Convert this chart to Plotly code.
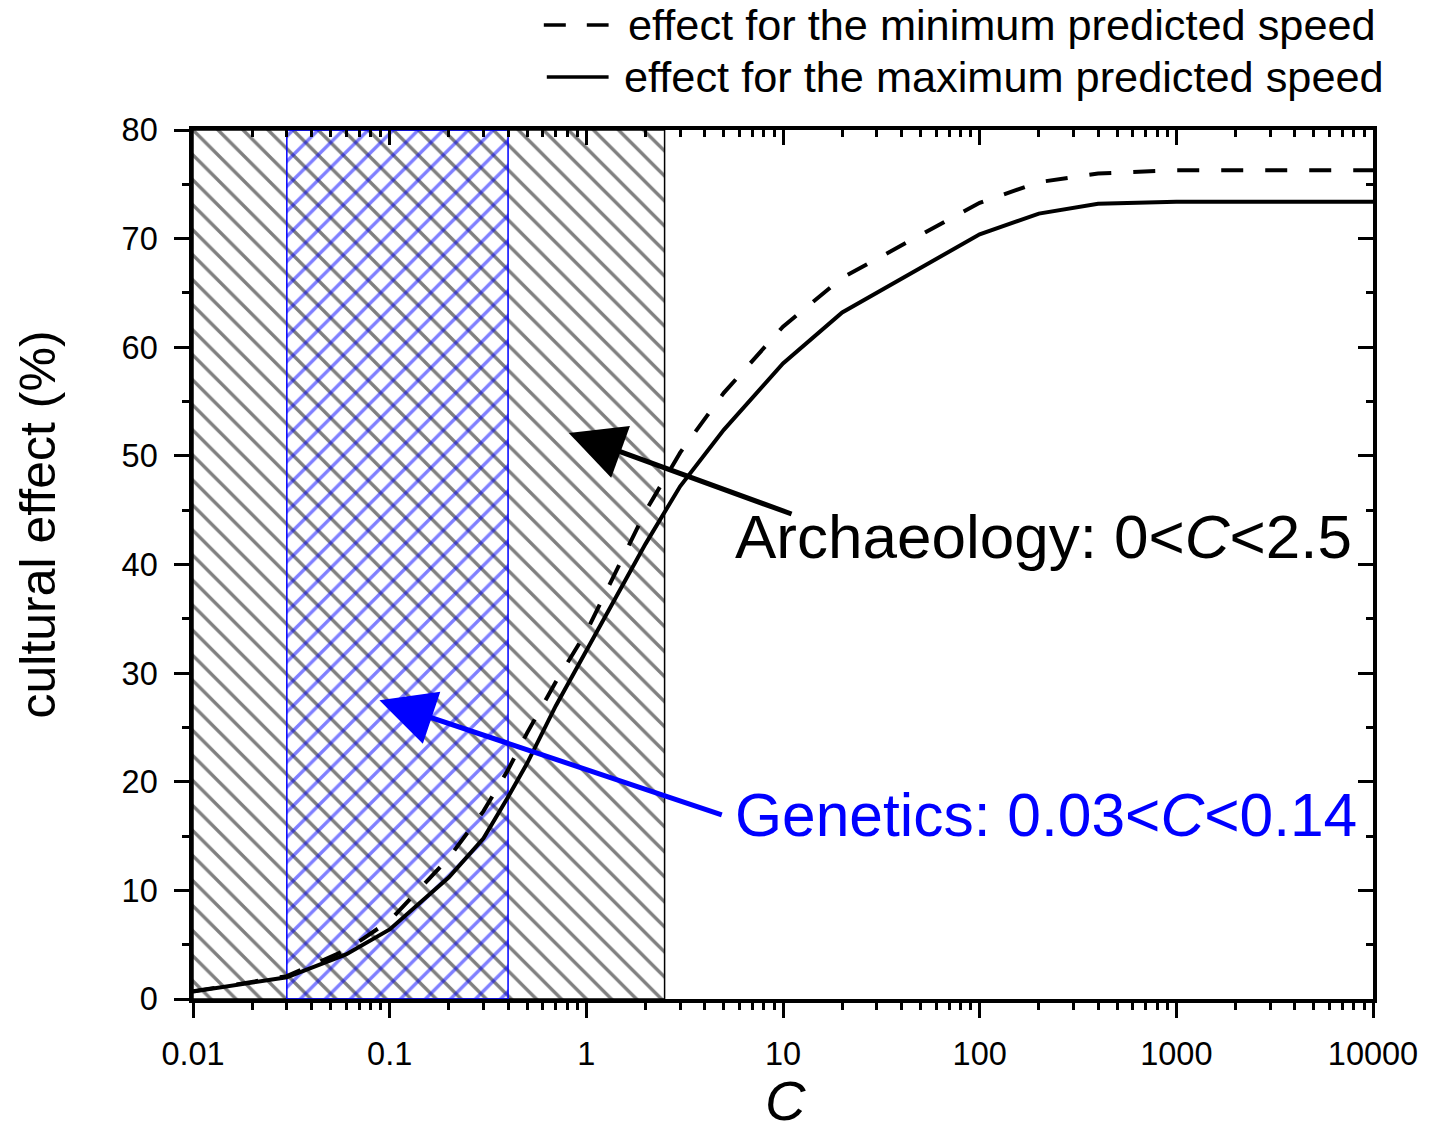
import numpy as np
import plotly.graph_objects as go

# ---------------- data ----------------
C_values = [0.01, 0.03, 0.06, 0.1, 0.2, 0.3, 0.4, 0.5, 0.7, 1, 2, 3, 5, 10, 20, 100, 200, 400, 1000, 10000]
effect_min_speed = [0.7, 2.1, 4.5, 7.2, 13.0, 17.3, 21.1, 24.5, 29.2, 33.8, 44.9, 50.3, 55.8, 61.9, 66.4, 73.3, 75.2, 76.0, 76.3, 76.3]
effect_max_speed = [0.7, 2.0, 4.1, 6.4, 11.2, 14.8, 18.6, 21.7, 27.0, 32.0, 41.9, 47.2, 52.4, 58.5, 63.2, 70.4, 72.3, 73.2, 73.4, 73.4]

archaeology_range = [0.01, 2.5]
genetics_range = [0.03, 0.4]
effect_axis_max = 80

x_tickvals = [0.01, 0.1, 1, 10, 100, 1000, 10000]
x_ticktext = ["0.01", "0.1", "1", "10", "100", "1000", "10000"]
x_minor = [m * 10.0 ** e for e in range(-2, 4) for m in range(2, 10)]

# arrow end points (C, effect)
arch_arrow_head = (0.815, 52.1)
arch_arrow_tail = (11.25, 44.6)
gen_arrow_head = (0.0887, 27.5)
gen_arrow_tail = (4.97, 16.9)

FONT = "Liberation Sans, Arial, Helvetica, sans-serif"

fig = go.Figure()


def rect(r):
    return [r[0], r[1], r[1], r[0], r[0]], [0, 0, effect_axis_max, effect_axis_max, 0]


ax_x, ax_y = rect(archaeology_range)
fig.add_trace(go.Scatter(
    x=ax_x, y=ax_y, mode="lines", fill="toself",
    line=dict(color="black", width=1.5),
    fillcolor="rgba(0,0,0,0)",
    fillpattern=dict(shape="\\", size=17.7, solidity=0.19,
                     fgcolor="black", bgcolor="rgba(0,0,0,0)"),
    hoverinfo="skip", showlegend=False))

gx, gy = rect(genetics_range)
fig.add_trace(go.Scatter(
    x=gx, y=gy, mode="lines", fill="toself",
    line=dict(color="blue", width=1.5),
    fillcolor="rgba(0,0,0,0)",
    fillpattern=dict(shape="/", size=17.7, solidity=0.19,
                     fgcolor="blue", bgcolor="rgba(0,0,0,0)"),
    hoverinfo="skip", showlegend=False))

fig.add_trace(go.Scatter(
    x=C_values, y=effect_min_speed, mode="lines",
    line=dict(color="black", width=4, dash="22px,22px"),
    name="effect for the minimum predicted speed", showlegend=False))
fig.add_trace(go.Scatter(
    x=C_values, y=effect_max_speed, mode="lines",
    line=dict(color="black", width=4),
    name="effect for the maximum predicted speed", showlegend=False))

# empty trace to activate mirrored axes
fig.add_trace(go.Scatter(x=[], y=[], xaxis="x2", yaxis="y2", showlegend=False, hoverinfo="skip"))

L, R, T, B = 193, 53, 130, 136
W, H = 1430, 1135
pw, ph = W - L - R, H - T - B


def px(xp):
    return (xp - L) / pw


def py(yp):
    return (H - B - yp) / ph


annotations = [
    dict(x=np.log10(arch_arrow_head[0]), y=arch_arrow_head[1],
         ax=np.log10(arch_arrow_tail[0]), ay=arch_arrow_tail[1],
         xref="x", yref="y", axref="x", ayref="y", text="",
         showarrow=True, arrowhead=2, arrowsize=2.2, arrowwidth=5, arrowcolor="black"),
    dict(x=np.log10(gen_arrow_head[0]), y=gen_arrow_head[1],
         ax=np.log10(gen_arrow_tail[0]), ay=gen_arrow_tail[1],
         xref="x", yref="y", axref="x", ayref="y", text="",
         showarrow=True, arrowhead=2, arrowsize=2.2, arrowwidth=5, arrowcolor="blue"),
    dict(x=px(735), y=py(536), xref="paper", yref="paper", xanchor="left", yanchor="middle",
         text="Archaeology: 0&lt;<i>C</i>&lt;2.5", showarrow=False,
         font=dict(family=FONT, size=62, color="black")),
    dict(x=px(735), y=py(815), xref="paper", yref="paper", xanchor="left", yanchor="middle",
         text="Genetics: 0.03&lt;<i>C</i>&lt;0.14", showarrow=False,
         font=dict(family=FONT, size=60.5, color="blue")),
    dict(x=px(627), y=py(25), xref="paper", yref="paper", xanchor="left", yanchor="middle",
         text="effect for the minimum predicted speed", showarrow=False,
         font=dict(family=FONT, size=43.3, color="black")),
    dict(x=px(623), y=py(77), xref="paper", yref="paper", xanchor="left", yanchor="middle",
         text="effect for the maximum predicted speed", showarrow=False,
         font=dict(family=FONT, size=43.3, color="black")),
    dict(x=px(788), y=py(1100), xref="paper", yref="paper", xanchor="center", yanchor="middle",
         text="<i>C</i>", showarrow=False,
         font=dict(family=FONT, size=56, color="black")),
    dict(x=px(37), y=py(525), xref="paper", yref="paper", xanchor="center", yanchor="middle",
         text="cultural effect (%)", textangle=-90, showarrow=False,
         font=dict(family=FONT, size=50, color="black")),
]

shapes = [
    dict(type="line", xref="paper", yref="paper", x0=px(545), x1=px(610), y0=py(25), y1=py(25),
         line=dict(color="black", width=3.5, dash="22px,21px")),
    dict(type="line", xref="paper", yref="paper", x0=px(548), x1=px(610), y0=py(77), y1=py(77),
         line=dict(color="black", width=3.5)),
]

axis_common = dict(showline=True, linecolor="black", linewidth=3.5, showgrid=False,
                   zeroline=False, tickcolor="black", tickwidth=3)

fig.update_layout(
    width=W, height=H,
    margin=dict(l=L, r=R, t=T, b=B),
    plot_bgcolor="white", paper_bgcolor="white",
    font=dict(family=FONT, size=32, color="black"),
    showlegend=False,
    xaxis=dict(type="log", range=[-2, 4], ticks="outside", ticklen=15,
               tickmode="array", tickvals=x_tickvals, ticktext=x_ticktext,
               tickfont=dict(size=32.5), ticklabelstandoff=8,
               minor=dict(tickmode="array", tickvals=x_minor, ticks="outside", ticklen=7,
                          tickwidth=2.5, tickcolor="black", showgrid=False),
               **axis_common),
    xaxis2=dict(type="log", range=[-2, 4], overlaying="x", side="top", anchor="y",
                ticks="inside", ticklen=15, showticklabels=False,
                tickmode="array", tickvals=x_tickvals,
                minor=dict(tickmode="array", tickvals=x_minor, ticks="inside", ticklen=7,
                           tickwidth=2.5, tickcolor="black", showgrid=False),
                **axis_common),
    yaxis=dict(range=[0, effect_axis_max], dtick=10, ticks="outside", ticklen=15,
               tickfont=dict(size=32.5), ticklabelstandoff=10,
               minor=dict(dtick=5, ticks="outside", ticklen=7, tickwidth=2.5,
                          tickcolor="black", showgrid=False),
               **axis_common),
    yaxis2=dict(range=[0, effect_axis_max], overlaying="y", side="right", anchor="x",
                dtick=10, ticks="inside", ticklen=15, showticklabels=False,
                minor=dict(dtick=5, ticks="inside", ticklen=7, tickwidth=2.5,
                           tickcolor="black", showgrid=False),
                **axis_common),
    annotations=annotations,
    shapes=shapes,
)

fig.write_html("out.html",
               config={"displayModeBar": False},
               post_script="document.body.style.margin='0';document.body.style.padding='0';")
